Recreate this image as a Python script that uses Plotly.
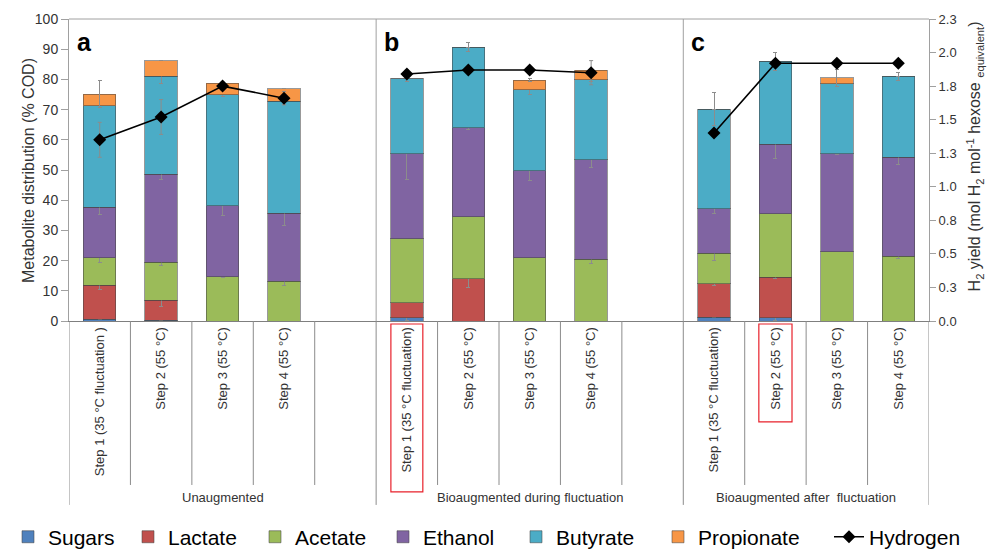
import plotly.graph_objects as go

# ---------------- data ----------------
slot_ids = ["a1", "a2", "a3", "a4", "a5",
            "b1", "b2", "b3", "b4", "b5",
            "c1", "c2", "c3", "c4"]
step_labels = ["Step 1 (35 °C fluctuation )", "Step 2 (55 °C)", "Step 3 (55 °C)", "Step 4 (55 °C)", "",
               "Step 1 (35 °C fluctuation)", "Step 2 (55 °C)", "Step 3 (55 °C)", "Step 4 (55 °C)", "",
               "Step 1 (35 °C fluctuation)", "Step 2 (55 °C)", "Step 3 (55 °C)", "Step 4 (55 °C)"]
group_labels = ["Unaugmented", "Bioaugmented during fluctuation", "Bioaugmented after  fluctuation"]
panel_letters = ["a", "b", "c"]
left_title = "Metabolite distribution (% COD)"
right_title = "H<sub>2</sub> yield (mol H<sub>2</sub> mol<sup>-1</sup> hexose <sub>equivalent</sub>)"

# metabolite shares (% COD), stacked segment sizes
sugars     = [0.5, 0.3, 0.0, 0.0, None, 1.1, 0.0, 0.0, 0.0, None, 1.2, 1.0, 0.0, 0.0]
lactate    = [11.3, 6.5, 0.0, 0.0, None, 5.0, 14.0, 0.0, 0.0, None, 11.1, 13.5, 0.0, 0.0]
acetate    = [9.2, 12.6, 14.7, 13.1, None, 21.1, 20.5, 21.0, 20.5, None, 10.1, 21.0, 22.9, 21.5]
ethanol    = [16.6, 29.2, 23.5, 22.6, None, 28.1, 29.5, 28.8, 32.9, None, 14.7, 23.1, 32.4, 32.7]
butyrate   = [33.6, 32.4, 36.7, 37.0, None, 24.9, 26.7, 26.7, 26.5, None, 33.1, 27.4, 23.2, 26.8]
propionate = [3.9, 5.2, 3.9, 4.2, None, 0.0, 0.0, 3.3, 3.2, None, 0.0, 0.0, 2.0, 0.0]

# error bars (same units)
sugars_err     = [None, None, None, None, None, 1.0, None, None, None, None, None, 0.8, None, None]
lactate_err    = [1.5, 2.0, None, None, None, None, 3.0, None, None, None, 0.5, 0.4, None, None]
acetate_err    = [1.7, 1.1, 0.3, 1.3, None, None, None, None, 1.3, None, 2.2, None, None, 0.8]
ethanol_err    = [2.2, 1.8, 3.4, 4.0, None, 8.3, 0.5, 3.3, 2.6, None, 1.5, 4.7, 0.3, 2.5]
butyrate_err   = [None, 2.5, 0.5, 1.1, None, 1.0, 1.5, 1.4, 0.7, None, 5.4, 2.9, None, 1.4]
propionate_err = [4.5, None, None, None, None, None, None, 0.6, None, None, None, None, 2.8, None]

# hydrogen yield (mol H2 / mol hexose equivalent)
hydrogen     = [1.35, 1.52, 1.75, 1.66, None, 1.84, 1.87, 1.87, 1.85, None, 1.40, 1.92, 1.92, 1.92]
hydrogen_err = [0.13, 0.13, 0.03, 0.05, None, 0.03, 0.02, None, 0.09, None, None, None, None, None]

left_ticks = [0, 10, 20, 30, 40, 50, 60, 70, 80, 90, 100]
right_tickvals = [0, 0.25, 0.5, 0.75, 1.0, 1.25, 1.5, 1.75, 2.0, 2.25]
right_ticktext = ["0.0", "0.3", "0.5", "0.8", "1.0", "1.3", "1.5", "1.8", "2.0", "2.3"]

series = [
    ("Sugars", sugars, sugars_err, "#4F81BD"),
    ("Lactate", lactate, lactate_err, "#C0504D"),
    ("Acetate", acetate, acetate_err, "#9BBB59"),
    ("Ethanol", ethanol, ethanol_err, "#8064A2"),
    ("Butyrate", butyrate, butyrate_err, "#4BACC6"),
    ("Propionate", propionate, propionate_err, "#F79646"),
]

# ---------------- layout constants ----------------
FONT = "Liberation Sans, Arial, sans-serif"
TXT = "#333333"
AX = "#A0A0A0"
SEP = "#8C8C8C"
W, H = 997, 550
legend_x_px = [-4, 120, 247, 375, 508, 650, 821]   # horizontal placement of legend entries
legend_y = 0.038

fig = go.Figure()
legend_names = ["legend"] + ["legend%d" % i for i in range(2, 8)]
for i, (name, vals, errs, col) in enumerate(series):
    fig.add_trace(go.Bar(
        name=name, x=slot_ids, y=vals, legend=legend_names[i],
        marker=dict(color=col, line=dict(color="rgba(70,70,70,0.55)", width=1)),
        error_y=dict(type="data", array=errs, visible=True, color="#8C8C8C",
                     thickness=1, width=2),
    ))

fig.add_trace(go.Scatter(
    name="Hydrogen", x=slot_ids, y=hydrogen, yaxis="y2", mode="lines+markers",
    legend=legend_names[6],
    line=dict(color="black", width=1.6),
    marker=dict(symbol="diamond", size=10, color="black"),
    connectgaps=False,
    error_y=dict(type="data", array=hydrogen_err, visible=True, color="#8C8C8C",
                 thickness=1, width=2),
))

shapes = []
shapes.append(dict(type="line", xref="paper", yref="paper", x0=0, x1=1, y0=1, y1=1,
                   line=dict(color=AX, width=1)))
n = len(slot_ids)
group_bounds = [-0.5, 4.5, 9.5, 13.5]
for k in range(n + 1):
    xb = k - 0.5
    if xb in group_bounds:
        shapes.append(dict(type="line", xref="x", yref="paper", x0=xb, x1=xb, y0=0, y1=-0.609,
                           line=dict(color=SEP, width=1)))
        if 0 < k < n:
            shapes.append(dict(type="line", xref="x", yref="paper", x0=xb, x1=xb, y0=0, y1=1,
                               line=dict(color=AX, width=1)))
    else:
        shapes.append(dict(type="line", xref="x", yref="paper", x0=xb, x1=xb, y0=0, y1=-0.543,
                           line=dict(color=SEP, width=1)))
shapes.append(dict(type="rect", xref="x", yref="paper", x0=5 - 0.26, x1=5 + 0.26,
                   y0=-0.566, y1=-0.01, line=dict(color="#E8212B", width=1.2)))
shapes.append(dict(type="rect", xref="x", yref="paper", x0=11 - 0.27, x1=11 + 0.27,
                   y0=-0.334, y1=-0.01, line=dict(color="#E8212B", width=1.2)))

annotations = []
group_centers = [2, 7, 11.5]
for g, lab in enumerate(group_labels):
    annotations.append(dict(text=lab, x=group_centers[g], xref="x", y=-0.586, yref="paper",
                            showarrow=False, xanchor="center", yanchor="middle",
                            font=dict(family=FONT, size=13, color=TXT)))
for g, let in enumerate(panel_letters):
    annotations.append(dict(text="<b>" + let + "</b>", x=group_bounds[g] + 0.1, xref="x",
                            y=0.925, yref="paper", showarrow=False, xanchor="left",
                            yanchor="middle", font=dict(family=FONT, size=25, color="black")))
# axis titles
annotations.append(dict(text=left_title, xref="paper", yref="paper", x=-0.0477, y=0.5,
                        textangle=-90, showarrow=False, xanchor="center", yanchor="middle",
                        font=dict(family=FONT, size=16, color=TXT)))
annotations.append(dict(text=right_title, xref="paper", yref="paper", x=1.0535, y=0.545,
                        textangle=-90, showarrow=False, xanchor="center", yanchor="middle",
                        font=dict(family=FONT, size=16, color=TXT)))

legend_layout = {}
for i, lname in enumerate(legend_names):
    legend_layout[lname] = dict(orientation="h", xref="container", yref="container",
                                x=legend_x_px[i] / W, xanchor="left", y=legend_y,
                                yanchor="middle", bgcolor="rgba(0,0,0,0)",
                                font=dict(family=FONT, size=21, color="black"),
                                itemwidth=30)

fig.update_layout(
    width=W, height=H,
    margin=dict(l=61, r=76, t=11, b=237, autoexpand=False),
    paper_bgcolor="white", plot_bgcolor="white",
    barmode="stack", bargap=0.47,
    font=dict(family=FONT, size=13, color=TXT),
    showlegend=True,
    xaxis=dict(type="category", categoryorder="array", categoryarray=slot_ids,
               range=[-0.5, n - 0.5], tickmode="array", tickvals=slot_ids,
               ticktext=step_labels, tickangle=-90, ticks="", showline=True,
               linecolor="#7F7F7F", linewidth=1, showgrid=False, zeroline=False,
               automargin=False,
               tickfont=dict(family=FONT, size=13, color=TXT)),
    yaxis=dict(range=[0, 100], tickvals=left_ticks, ticks="outside", ticklen=7,
               tickcolor=AX, showline=True, linecolor=AX, linewidth=1, showgrid=False,
               zeroline=False, automargin=False,
               tickfont=dict(family=FONT, size=14, color=TXT)),
    yaxis2=dict(range=[0, 2.25], overlaying="y", side="right", tickmode="array",
                tickvals=right_tickvals, ticktext=right_ticktext, ticks="outside",
                ticklen=6, tickcolor=AX, showline=True, linecolor=AX, linewidth=1,
                showgrid=False, zeroline=False, automargin=False,
                tickfont=dict(family=FONT, size=13, color=TXT)),
    shapes=shapes, annotations=annotations,
    **legend_layout,
)

fig.write_html("out.html")
